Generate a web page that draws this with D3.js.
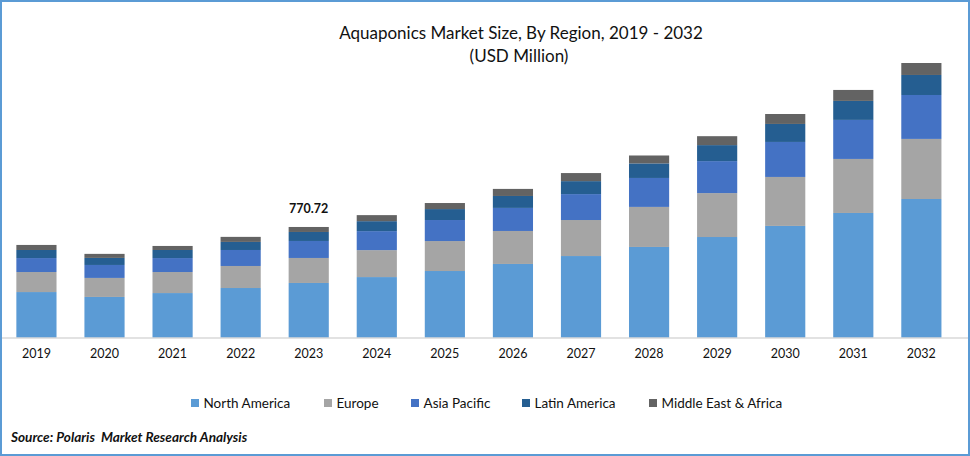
<!DOCTYPE html>
<html>
    <head>
        <script src="https://d3js.org/d3.v7.min.js"></script>
        <style>
            html, body {margin: 0; background: #fff; overflow: hidden; font-family: Lato, sans-serif;}
            svg {display: block;}
        </style>
        <title>Aquaponics Market Size</title>
    </head>
    <body>
        <svg id="chart" width="970" height="456"></svg>
    </body>
    <script>
        const years = ["2019", "2020", "2021", "2022", "2023", "2024", "2025", "2026", "2027", "2028", "2029", "2030", "2031", "2032"]
        const regions = ["North America", "Europe", "Asia Pacific", "Latin America", "Middle East & Africa"]
        const colors = ["#5b9bd5", "#a5a5a5", "#4472c4", "#255e91", "#636363"]

        const northAmerica = [319, 285, 312, 347, 382, 423, 465, 514, 569, 632, 701, 778, 868, 965]
        const europe = [139, 132, 146, 153, 173.6, 187, 208, 229, 250, 278, 305, 340, 375, 417]
        const asiaPacific = [97, 90, 97, 111, 118, 132, 146, 160, 180, 201, 222, 243, 271, 305]
        const latinAmerica = [56, 49, 56, 56, 62.5, 69, 76, 83, 90, 101, 111, 125, 132, 139]
        const middleEast = [35, 28, 28, 35, 34.62, 42, 42, 49, 56, 55, 62, 69, 76, 83]
        const series = [northAmerica, europe, asiaPacific, latinAmerica, middleEast]

        const labelYear = "2023"
        const labelValue = "770.72"

        const rows = years.map((year, i) => {
            var row = {year: year}
            regions.forEach((r, j) => { row[r] = series[j][i] })
            return row
        })

        const svg = d3.select("#chart")

        const x = d3.scaleBand().domain(years).range([2.4, 955.4]).paddingInner(0.41).paddingOuter(0.205)
        const y = d3.scaleLinear().domain([0, 2346.4]).range([338, 0])
        const color = d3.scaleOrdinal().domain(regions).range(colors)

        const stacked = d3.stack().keys(regions)(rows)

        svg.append("g")
            .selectAll("g")
            .data(stacked)
            .join("g")
            .attr("fill", d => color(d.key))
            .selectAll("rect")
            .data(d => d)
            .join("rect")
            .attr("x", d => x(d.data.year))
            .attr("y", d => y(d[1]))
            .attr("width", x.bandwidth())
            .attr("height", d => y(d[0]) - y(d[1]))

        // axis
        const axis = svg.append("g")
            .attr("transform", "translate(0,338)")
            .call(d3.axisBottom(x).tickSize(0).tickPadding(11))
        axis.select(".domain").attr("stroke", "#d9d9d9").attr("stroke-width", 1.5).attr("d", "M2,0H968")
        axis.selectAll("text").attr("font-family", "Lato").attr("font-size", 12.5).attr("fill", "#111")

        // value label on one bar
        svg.append("text")
            .attr("x", x(labelYear) + x.bandwidth() / 2)
            .attr("y", y(d3.sum(series, s => s[years.indexOf(labelYear)])) - 14)
            .attr("text-anchor", "middle")
            .attr("font-size", 12.5)
            .attr("font-weight", 700)
            .attr("fill", "#111")
            .text(labelValue)

        // title
        svg.append("text").attr("x", 521).attr("y", 39).attr("text-anchor", "middle")
            .attr("font-size", 17).attr("fill", "#111")
            .text("Aquaponics Market Size, By Region, 2019 - 2032")
        svg.append("text").attr("x", 519).attr("y", 62).attr("text-anchor", "middle")
            .attr("font-size", 17).attr("fill", "#111")
            .text("(USD Million)")

        // legend
        const legendX = d3.scaleOrdinal().domain(regions).range([191, 324, 411, 522, 649])
        const legend = svg.append("g").selectAll("g").data(regions).join("g")
            .attr("transform", d => `translate(${legendX(d)},399)`)
        legend.append("rect").attr("width", 8).attr("height", 8).attr("fill", d => color(d))
        legend.append("text").attr("x", 12.5).attr("y", 8.5)
            .attr("font-size", 13.5).attr("fill", "#111").text(d => d)

        // source
        svg.append("text").attr("x", 11).attr("y", 442)
            .attr("font-size", 13.6).attr("font-weight", 700).attr("font-style", "italic").attr("fill", "#111")
            .attr("xml:space", "preserve")
            .text("Source: Polaris  Market Research Analysis")

        // outer border
        svg.append("rect").attr("x", 1).attr("y", 1).attr("width", 968).attr("height", 454)
            .attr("fill", "none").attr("stroke", "#5b9bd5").attr("stroke-width", 2)
    </script>
</html>
